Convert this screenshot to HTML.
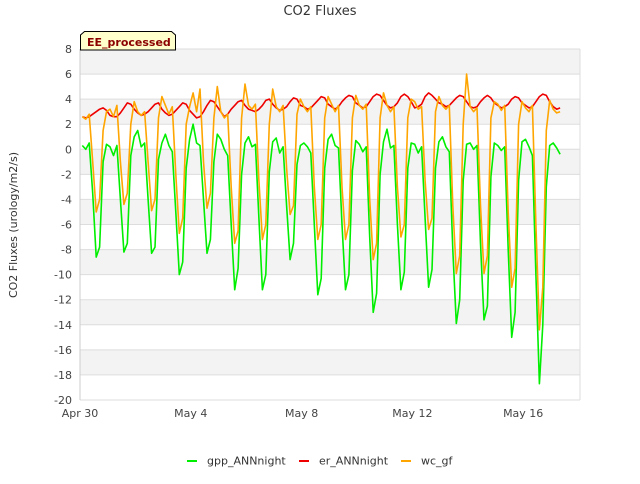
<!DOCTYPE html>
<html><head><meta charset="utf-8"><style>
body{margin:0;background:#fff;width:640px;height:480px;overflow:hidden;font-family:"DejaVu Sans","Liberation Sans",sans-serif}
svg text{font-family:"DejaVu Sans","Liberation Sans",sans-serif}
</style></head><body>
<svg id="chart" width="640" height="480" xmlns="http://www.w3.org/2000/svg">
<g id="bands"></g>
<g id="grid"></g>
<g id="series"></g>
<g id="yaxis"></g>
<g id="xaxis"></g>
<text x="320" y="15" text-anchor="middle" font-size="13" fill="#333">CO2 Fluxes</text>
<text transform="translate(17,225) rotate(-90)" text-anchor="middle" font-size="11" fill="#333">CO2 Fluxes (urology/m2/s)</text>
<g>
<path d="M80.5,50 L80.5,35 L84.5,31.5 L171.5,31.5 L175.5,35 L175.5,50 Z" fill="#ffffcc" stroke="#000" stroke-width="1"/>
<text x="87" y="46" font-size="11" font-weight="bold" fill="#8b0000">EE_processed</text>
</g>
<g>
<g><line x1="187" y1="461" x2="197" y2="461" stroke="#00ee00" stroke-width="2"/><text x="207" y="464.5" font-size="11" fill="#333">gpp_ANNnight</text></g>
<g><line x1="299" y1="461" x2="309" y2="461" stroke="#ee0000" stroke-width="2"/><text x="319" y="464.5" font-size="11" fill="#333">er_ANNnight</text></g>
<g><line x1="401" y1="461" x2="411" y2="461" stroke="#ffa500" stroke-width="2"/><text x="421" y="464.5" font-size="11" fill="#333">wc_gf</text></g>
</g>
</svg>
<script>
// sample hours within each day
const hours = [2,5,8,11,14,17,20,23];
const yTicks = [8,6,4,2,0,-2,-4,-6,-8,-10,-12,-14,-16,-18,-20];
const xTickDays = [0,4,8,12,16];
const xTickLabels = ["Apr 30","May 4","May 8","May 12","May 16"];
const gpp = [
[0.3,0.0,0.5,-3.5,-8.6,-7.8,-1.0,0.4],
[0.2,-0.5,0.3,-4,-8.2,-7.5,-0.5,1.0],
[1.5,0.2,0.5,-4,-8.3,-7.8,-0.8,0.5],
[1.2,0.3,-0.2,-5,-10,-9,-1.5,0.8],
[2.0,0.5,0.3,-4,-8.3,-7.2,-1.0,1.2],
[0.8,0.0,-0.5,-6,-11.2,-9.5,-2,0.5],
[1.0,0.2,0.4,-5.5,-11.2,-10,-1.8,0.6],
[0.9,-0.3,0.2,-4.5,-8.8,-7.5,-1.2,0.3],
[0.5,0.2,-0.3,-6,-11.6,-10.3,-1.5,0.8],
[1.2,0.3,0.1,-6,-11.2,-10,-1.7,0.7],
[0.4,-0.2,0.2,-7,-13,-11.5,-2.0,0.6],
[1.6,0.1,0.3,-6,-11.2,-9.8,-1.5,0.5],
[0.4,-0.3,0.2,-5.5,-11,-9.6,-1.5,0.6],
[1.0,0.2,-0.2,-8,-13.9,-12,-2.5,0.4],
[0.5,0.0,0.3,-7.5,-13.6,-12.5,-2.2,0.5],
[0.3,-0.1,0.2,-8,-15,-13,-2.5,0.6],
[0.8,0.2,-0.5,-10,-18.7,-14,-3,0.3],
[0.5,0.1,-0.4]];
const er = [
[2.6,2.5,2.6,2.8,3.0,3.2,3.3,3.1],
[2.7,2.6,2.6,2.9,3.3,3.7,3.6,3.2],
[2.9,2.7,2.8,3.0,3.3,3.6,3.7,3.2],
[2.9,2.7,2.8,3.1,3.4,3.7,3.6,3.1],
[2.8,2.5,2.6,3.0,3.5,3.9,3.8,3.4],
[3.0,2.6,2.8,3.2,3.5,3.8,3.9,3.5],
[3.2,3.1,3.0,3.2,3.5,3.9,4.0,3.6],
[3.3,3.1,3.2,3.4,3.8,4.1,4.0,3.5],
[3.4,3.2,3.3,3.6,3.9,4.2,4.1,3.6],
[3.4,3.2,3.4,3.8,4.1,4.3,4.2,3.7],
[3.5,3.3,3.4,3.8,4.2,4.4,4.3,3.9],
[3.5,3.3,3.4,3.7,4.2,4.4,4.2,3.8],
[3.3,3.4,3.6,4.2,4.5,4.3,4.0,3.7],
[3.6,3.4,3.5,3.8,4.1,4.3,4.2,3.8],
[3.4,3.3,3.4,3.8,4.1,4.3,4.1,3.7],
[3.5,3.3,3.4,3.6,4.0,4.2,4.1,3.7],
[3.5,3.3,3.4,3.8,4.2,4.4,4.3,3.8],
[3.4,3.2,3.3]];
const wc = [
[2.6,2.4,2.8,-1,-5,-4,1.5,3.0],
[3.2,2.6,3.5,-1,-4.4,-3.5,2,3.8],
[3.0,2.7,3.0,-1,-4.9,-4,2.5,4.2],
[3.5,2.8,3.4,-2,-6.7,-5.5,2.0,3.4],
[4.5,3.0,4.8,-1,-4.7,-3.5,2.5,5.0],
[3.0,2.5,2.8,-3,-7.5,-6.5,2.5,5.2],
[3.5,3.2,3.6,-2.5,-7.2,-6,2.0,4.8],
[3.4,3.0,3.5,-1.5,-5.2,-4.5,2.8,4.0],
[3.4,3.0,3.4,-3,-7.2,-6,2.5,4.2],
[3.6,3.0,3.5,-3,-7.2,-6,2.5,4.3],
[3.5,3.2,3.6,-4,-8.8,-7.5,2.5,4.5],
[3.5,3.0,3.4,-3,-7,-6,2.5,4.0],
[3.8,3.2,3.4,-2.5,-6.4,-5.5,3.0,4.2],
[3.5,3.2,3.5,-4.5,-9.9,-8.5,2.0,6.0],
[3.4,3.0,3.3,-4.5,-9.9,-8.5,2.5,3.8],
[3.6,3.1,3.5,-5,-11,-9.5,2,3.8],
[3.3,3.0,3.5,-6,-14.4,-11,1.5,3.9],
[3.2,2.9,3.0]];

const NS="http://www.w3.org/2000/svg";
const L=80,R=580,T=49,B=400,yMin=-20,yMax=8,pxDay=27.7;
function xs(d){return L+d*pxDay;}
function ys(v){return B-(v-yMin)/(yMax-yMin)*(B-T);}
function mk(tag,attrs,parent){const e=document.createElementNS(NS,tag);for(const k in attrs)e.setAttribute(k,attrs[k]);parent.appendChild(e);return e;}
const bands=document.getElementById('bands'),grid=document.getElementById('grid'),ya=document.getElementById('yaxis'),xa=document.getElementById('xaxis'),ser=document.getElementById('series');
for(let i=0;i<yTicks.length-1;i++){
  const v=yTicks[i];
  if(i%2===0){const r=mk('rect',{x:L,y:ys(v),width:R-L,height:ys(yTicks[i+1])-ys(v),fill:'#f3f3f3'},bands);
  
  }
}
yTicks.forEach(v=>{
  const g=mk('line',{x1:L,x2:R,y1:ys(v),y2:ys(v),stroke:'#dddddd','stroke-width':1},grid);
  
  
  const t=mk('text',{x:72,y:ys(v)+4,'text-anchor':'end','font-size':11,fill:'#444'},ya);
  t.textContent=v;
  
  
});
mk('line',{x1:L,x2:L,y1:T,y2:B,stroke:'#cccccc'},grid);
mk('line',{x1:R,x2:R,y1:T,y2:B,stroke:'#dddddd'},grid);
xTickDays.forEach((d,i)=>{
  const t=mk('text',{x:xs(d),y:417,'text-anchor':'middle','font-size':11,fill:'#444'},xa);
  t.textContent=xTickLabels[i];
  
  
});
function draw(arr,color,name){
  const pts=[];
  arr.forEach((row,d)=>row.forEach((v,h)=>pts.push(xs(d+hours[h]/24).toFixed(1)+','+ys(v).toFixed(1))));
  const p=mk('polyline',{points:pts.join(' '),fill:'none',stroke:color,'stroke-width':1.6,'stroke-linejoin':'round'},ser);
  
  
}
draw(gpp,'#00ee00','gpp-line');
draw(er,'#ee0000','er-line');
draw(wc,'#ffa500','wc-line');
</script>
</body></html>
